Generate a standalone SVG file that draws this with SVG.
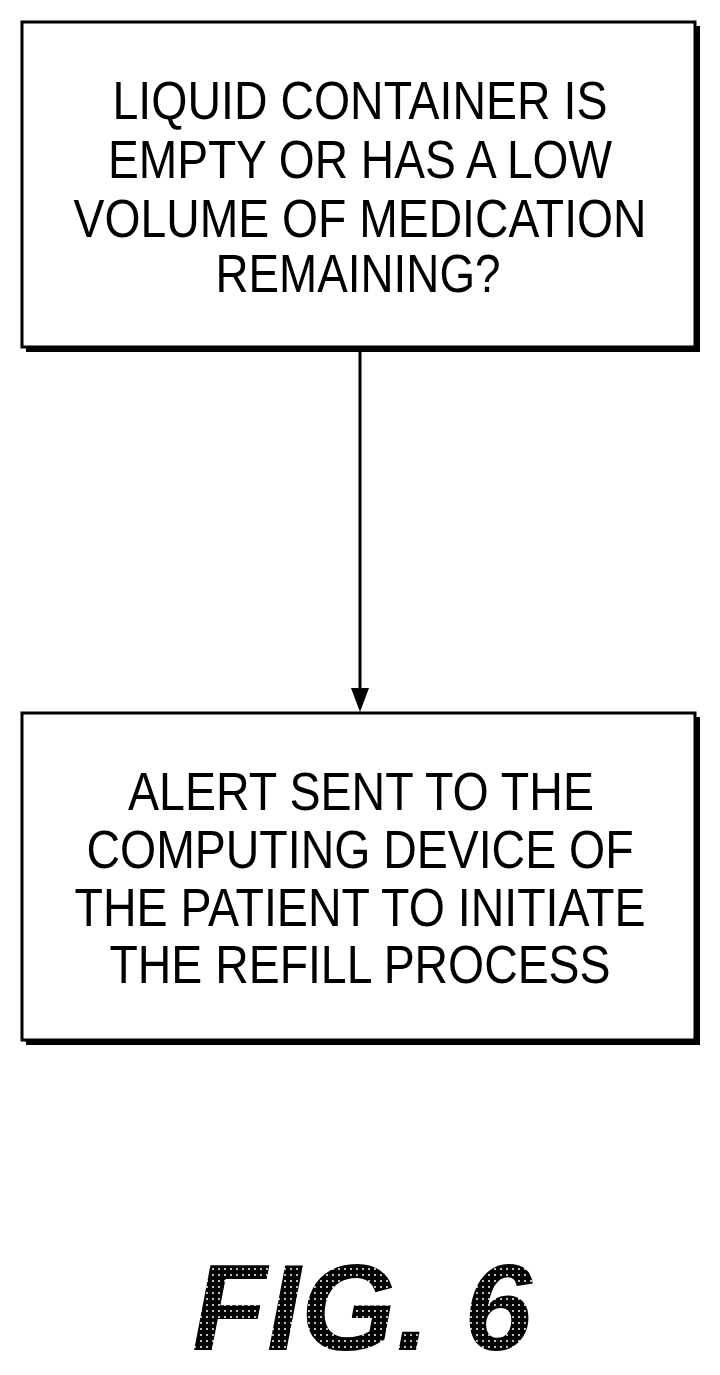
<svg xmlns="http://www.w3.org/2000/svg" width="720" height="1375" viewBox="0 0 720 1375">
<style>
.box{fill:#fff;stroke:#000;stroke-width:3}
.sh{fill:#000}
.t{font-family:"Liberation Sans",Arial,sans-serif;font-size:54px;text-anchor:middle;fill:#000}
.fig{font-family:"Liberation Sans",Arial,sans-serif;font-size:122px;font-weight:bold;font-style:italic;text-anchor:middle;fill:url(#dots)}
</style>
<defs>
<pattern id="dots" width="6" height="6" patternUnits="userSpaceOnUse">
<rect width="6" height="6" fill="#000"/>
<circle cx="3" cy="3" r="1" fill="#fff"/>
</pattern>
</defs>
<rect width="720" height="1375" fill="#fff"/>
<g id="connectors">
<line x1="360" y1="349" x2="360" y2="693" stroke="#000" stroke-width="3"/>
<path d="M351,688 L369,688 L360,712 Z" fill="#000"/>
</g>
<g id="node1">
<rect class="sh" x="26" y="26" width="674" height="326"/>
<rect class="box" x="22" y="22" width="673" height="325"/>
<text class="t" x="360" y="119" textLength="495" lengthAdjust="spacingAndGlyphs">LIQUID CONTAINER IS</text>
<text class="t" x="360" y="178" textLength="504" lengthAdjust="spacingAndGlyphs">EMPTY OR HAS A LOW</text>
<text class="t" x="360" y="237" textLength="573" lengthAdjust="spacingAndGlyphs">VOLUME OF MEDICATION</text>
<text class="t" x="358" y="292" textLength="285" lengthAdjust="spacingAndGlyphs">REMAINING?</text>
</g>
<g id="node2">
<rect class="sh" x="26" y="717" width="674" height="328"/>
<rect class="box" x="22" y="713" width="673" height="327"/>
<text class="t" x="361" y="810" textLength="466" lengthAdjust="spacingAndGlyphs">ALERT SENT TO THE</text>
<text class="t" x="360" y="868" textLength="547" lengthAdjust="spacingAndGlyphs">COMPUTING DEVICE OF</text>
<text class="t" x="360" y="926" textLength="571" lengthAdjust="spacingAndGlyphs">THE PATIENT TO INITIATE</text>
<text class="t" x="360" y="983" textLength="501" lengthAdjust="spacingAndGlyphs">THE REFILL PROCESS</text>
</g>
<text class="fig" x="362" y="1350" textLength="340" lengthAdjust="spacingAndGlyphs">FIG. 6</text>
</svg>
